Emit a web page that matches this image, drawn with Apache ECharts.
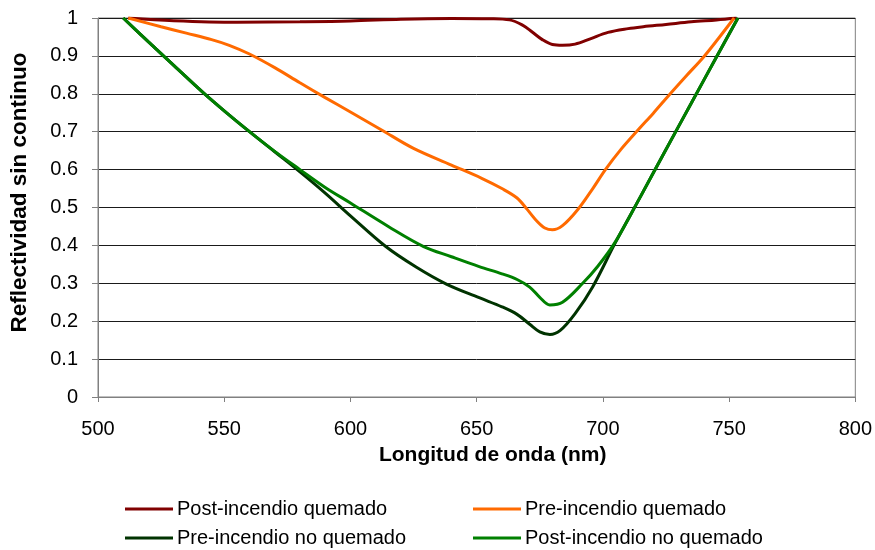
<!DOCTYPE html>
<html>
<head>
<meta charset="utf-8">
<script src="https://cdn.jsdelivr.net/npm/echarts@6/dist/echarts.min.js"></script>
<style>
  html, body { margin: 0; padding: 0; background: #fff; }
  #chart { width: 875px; height: 550px; }
</style>
</head>
<body>
<div id="chart"></div>
<script>
// wavelengths (nm) and continuum-removed reflectance per series
const postQuemadoWl = [512, 530, 555, 580, 600, 620, 640, 655, 663, 668, 672, 676, 680, 684, 689, 695, 702, 710, 716, 725, 735, 745, 753]
const postQuemado = [1, 0.993, 0.989, 0.99, 0.992, 0.997, 0.999, 0.998, 0.995, 0.982, 0.963, 0.943, 0.93, 0.928, 0.931, 0.945, 0.962, 0.972, 0.977, 0.983, 0.99, 0.995, 1]

const preQuemadoWl = [512, 525, 535, 545, 552, 560, 570, 580, 590, 600, 612, 625, 640, 652, 660, 666, 670, 674, 677, 680, 684, 690, 696, 701, 707, 714, 720, 726, 733, 740, 746, 752]
const preQuemado = [1, 0.977, 0.96, 0.943, 0.928, 0.905, 0.869, 0.829, 0.79, 0.752, 0.706, 0.656, 0.612, 0.577, 0.55, 0.525, 0.495, 0.463, 0.446, 0.441, 0.452, 0.494, 0.55, 0.60, 0.652, 0.705, 0.749, 0.795, 0.847, 0.898, 0.948, 1]

const preNoQuemadoWl = [510, 520, 530, 542, 550, 560, 570, 580, 590, 600, 614, 626, 638, 651, 660, 666, 671, 675, 679, 683, 689, 696, 705, 715, 725, 735, 745, 753.5]
const preNoQuemado = [1, 0.937, 0.875, 0.801, 0.755, 0.70, 0.647, 0.594, 0.538, 0.478, 0.397, 0.343, 0.298, 0.262, 0.238, 0.218, 0.192, 0.172, 0.165, 0.175, 0.22, 0.291, 0.408, 0.530, 0.653, 0.775, 0.897, 1]

const postNoQuemadoWl = [510, 520, 530, 542, 550, 560, 570, 580, 590, 600, 615, 629, 640, 651, 660, 666, 671, 675, 679, 684, 692, 698, 705, 715, 725, 735, 745, 753.5]
const postNoQuemado = [1, 0.937, 0.875, 0.801, 0.755, 0.70, 0.648, 0.60, 0.553, 0.512, 0.45, 0.397, 0.37, 0.344, 0.325, 0.31, 0.29, 0.263, 0.243, 0.25, 0.30, 0.345, 0.41, 0.530, 0.653, 0.775, 0.897, 1]

const seriesNames = ['Post-incendio quemado', 'Pre-incendio quemado', 'Pre-incendio no quemado', 'Post-incendio no quemado']
const seriesColors = ['#800000', '#FF6A00', '#003300', '#008000']

const FONT = "'Liberation Sans', Arial, sans-serif"

const pairs = (xs, ys) => xs.map((x, i) => [x, ys[i]])

const lineSeries = (name, color, data) => ({
    name: name,
    type: 'line',
    data: data,
    smooth: 0.35,
    showSymbol: false,
    symbol: 'none',
    lineStyle: { color: color, width: 3 },
    itemStyle: { color: color },
    emphasis: { disabled: true },
})

const legendBase = {
    orient: 'vertical',
    top: 494,
    height: 60,
    icon: 'rect',
    itemWidth: 48,
    itemHeight: 3,
    itemGap: 9,
    textStyle: { fontFamily: FONT, fontSize: 20, lineHeight: 20, color: '#000', padding: [0, 0, 0, -1] },
}

const chart = echarts.init(document.getElementById('chart'), null, { renderer: 'canvas' })
chart.setOption({
    animation: false,
    backgroundColor: '#fff',
    grid: {
        left: 98,
        right: 19,
        top: 18,
        bottom: 153,
        show: true,
        borderColor: '#808080',
        borderWidth: 1,
    },
    legend: [
        Object.assign({}, legendBase, { left: 120, data: [seriesNames[0], seriesNames[2]] }),
        Object.assign({}, legendBase, { left: 468, data: [seriesNames[1], seriesNames[3]] }),
    ],
    xAxis: {
        type: 'value',
        min: 500,
        max: 800,
        interval: 50,
        name: 'Longitud de onda (nm)',
        nameLocation: 'middle',
        nameGap: 48,
        nameTextStyle: { fontFamily: FONT, fontSize: 21, fontWeight: 'bold', color: '#000', padding: [0, 0, 0, 32] },
        axisLine: { lineStyle: { color: '#808080', width: 1 } },
        axisTick: { show: true, length: 5, lineStyle: { color: '#808080' } },
        axisLabel: { fontFamily: FONT, fontSize: 20, color: '#000', margin: 22 },
        splitLine: { show: false },
    },
    yAxis: {
        type: 'value',
        min: 0,
        max: 1,
        interval: 0.1,
        name: 'Reflectividad sin continuo',
        nameLocation: 'middle',
        nameGap: 67,
        nameTextStyle: { fontFamily: FONT, fontSize: 22.5, fontWeight: 'bold', color: '#000', padding: [0, 0, 0, 30] },
        axisLine: { show: true, lineStyle: { color: '#808080', width: 1 } },
        axisTick: { show: true, length: 6, lineStyle: { color: '#808080' } },
        axisLabel: { fontFamily: FONT, fontSize: 20, color: '#000', margin: 20 },
        splitLine: { show: true, lineStyle: { color: '#1a1a1a', width: 1 } },
    },
    series: [
        lineSeries(seriesNames[0], seriesColors[0], pairs(postQuemadoWl, postQuemado)),
        lineSeries(seriesNames[1], seriesColors[1], pairs(preQuemadoWl, preQuemado)),
        lineSeries(seriesNames[2], seriesColors[2], pairs(preNoQuemadoWl, preNoQuemado)),
        lineSeries(seriesNames[3], seriesColors[3], pairs(postNoQuemadoWl, postNoQuemado)),
    ],
})
</script>
</body>
</html>
